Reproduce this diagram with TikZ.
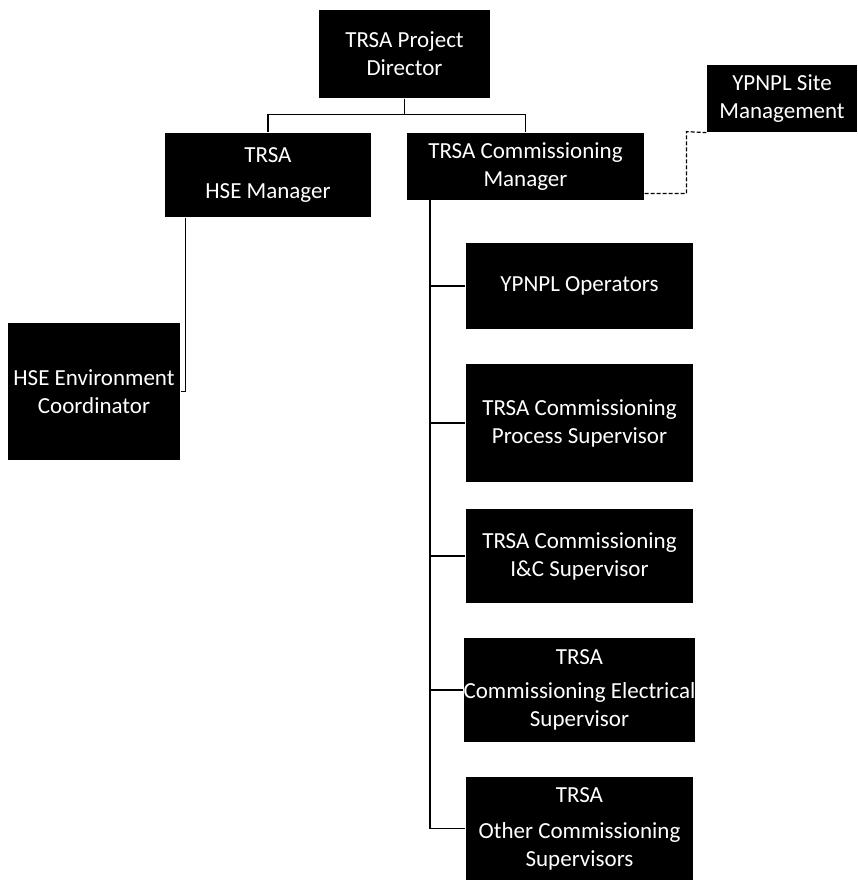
\documentclass[tikz,border=0pt]{standalone}
\usepackage{fontspec}
\setmainfont{Carlito}
\usepackage{tikz}
\usetikzlibrary{calc}

\begin{document}
\begin{tikzpicture}[x=1pt, y=1pt, role/.style={rectangle, fill=black, text=white, align=center, inner xsep=0pt, inner ysep=2pt, font=\fontsize{23}{28}\selectfont}, every path/.style={line width=1.2pt}]
			\useasboundingbox (0,0) rectangle (857,-882);
			\node[role, minimum width=171pt, minimum height=88pt] (dir) at (404.5,-54) {TRSA Project\\Director};
			\node[role, minimum width=206pt, minimum height=84pt] (hsem) at (268,-175) {TRSA\\[8pt]HSE Manager};
			\node[role, minimum width=237pt, minimum height=67pt] (cmm) at (525.5,-166.5) {TRSA Commissioning\\Manager};
			\node[role, minimum width=150pt, minimum height=67pt] (site) at (782,-98.5) {YPNPL Site\\Management};
			\node[role, minimum width=172pt, minimum height=137pt] (env) at (94,-391.5) {HSE Environment\\Coordinator};
			\node[role, minimum width=227pt, minimum height=86pt] (ops) at (579.5,-286) {YPNPL Operators};
			\node[role, minimum width=227pt, minimum height=118pt] (proc) at (579.5,-423) {TRSA Commissioning\\Process Supervisor};
			\node[role, minimum width=227pt, minimum height=94pt] (ic) at (579.5,-556) {TRSA Commissioning\\I\&C Supervisor};
			\node[role, minimum width=227pt, minimum height=104pt] (elec) at (579.5,-690) {TRSA\\[6pt]Commissioning Electrical\\Supervisor};
			\node[role, minimum width=227pt, minimum height=103pt] (other) at (579.5,-828.5) {TRSA\\[8pt]Other Commissioning\\Supervisors};
			\coordinate (trunk) at (430,-200);
			\draw (dir.south) -- ++(0,-16) -| (hsem.north);
			\draw (dir.south) -- ++(0,-16) -| (cmm.north);
			\draw (hsem.south -| env.east) ++(5,0) |- (env.east);
			\foreach \kid in {ops, proc, ic, elec, other}
				\draw (trunk) |- (\kid.west);
			\draw[dash pattern=on 4pt off 2pt] ($(cmm.south east)+(0,7)$) -| ($(site.south west)+(-20,1)$) -- (site.south west);
		\end{tikzpicture}
\end{document}
